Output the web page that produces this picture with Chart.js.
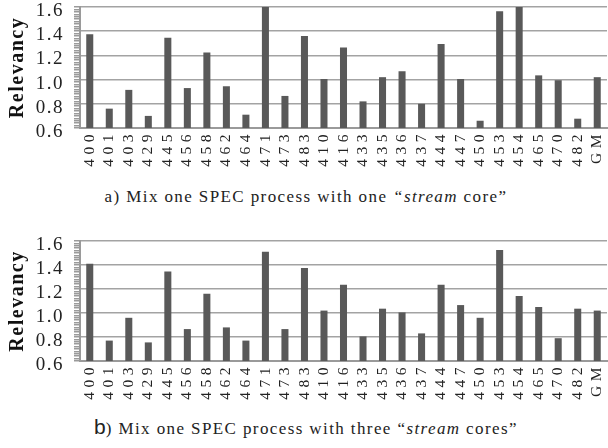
<!DOCTYPE html>
<html>
<head>
<meta charset="utf-8">
<script src="https://cdn.jsdelivr.net/npm/chart.js@4.4.0/dist/chart.umd.min.js"></script>
<style>
  body { margin: 0; background: #fff; width: 608px; height: 448px; position: relative; overflow: hidden; font-family: "Liberation Serif", serif; }
  .box { position: absolute; left: 0; width: 608px; height: 178px; }
  #boxA { top: 0; }
  #boxB { top: 233px; }
  .caption { position: absolute; left: 0; width: 612px; text-align: center; font-size: 17px; line-height: 20px; letter-spacing: 1.4px; color: #222; white-space: nowrap; }
  .caption .big { font-family: "Liberation Sans", sans-serif; font-size: 21px; line-height: 0; letter-spacing: 0; }
</style>
</head>
<body>
<div class="box" id="boxA"><canvas id="chartA" width="608" height="178"></canvas></div>
<div class="caption" style="top:187px">a) Mix one SPEC process with one <i>“stream</i> core”</div>
<div class="box" id="boxB"><canvas id="chartB" width="608" height="178"></canvas></div>
<div class="caption" style="top:419px"><span class="big">b</span>) Mix one SPEC process with three “<i>stream</i> cores”</div>

<script>
// Benchmarks on the x axis
const benchmarks = ['400', '401', '403', '429', '445', '456', '458', '462', '464', '471', '473', '483',
  '410', '416', '433', '435', '436', '437', '444', '447', '450', '453', '454', '465', '470', '482', 'GM'];

// a) one SPEC process with one stream core
const relevancyOneStream = [1.375, 0.76, 0.915, 0.70, 1.345, 0.93, 1.225, 0.945, 0.71, 1.61, 0.865, 1.36,
  1.005, 1.265, 0.82, 1.02, 1.07, 0.80, 1.295, 1.005, 0.66, 1.565, 1.61, 1.035, 0.995, 0.677, 1.02];

// b) one SPEC process with three stream cores
const relevancyThreeStream = [1.41, 0.77, 0.96, 0.755, 1.345, 0.866, 1.16, 0.88, 0.77, 1.51, 0.866, 1.375,
  1.02, 1.236, 0.805, 1.036, 1.005, 0.83, 1.236, 1.066, 0.96, 1.525, 1.142, 1.05, 0.79, 1.036, 1.02];

// Y axis range and ticks
const yMin = 0.6;
const yMax = 1.6;
const yLabelStep = 0.2;
const yMinorStep = 0.02;

const isMajor = (v) => Math.abs(v / yLabelStep - Math.round(v / yLabelStep)) < 1e-6;

// The original text is drawn a bit wide, so space the letters out
const letterSpacingPlugin = {
  id: 'letterSpacing',
  beforeDraw(chart) { chart.ctx.letterSpacing = '1.5px'; },
  afterDatasetsDraw(chart) { chart.ctx.letterSpacing = '4.5px'; },
  afterDraw(chart) { chart.ctx.letterSpacing = '0px'; }
};

function makeChart(canvasId, values, topPad) {
  return new Chart(document.getElementById(canvasId), {
    type: 'bar',
    data: {
      labels: benchmarks,
      datasets: [{
        data: values,
        backgroundColor: '#595959',
        borderWidth: 0,
        barPercentage: 0.36,
        categoryPercentage: 1
      }]
    },
    options: {
      responsive: false,
      animation: false,
      layout: { padding: { top: topPad, right: 1, left: 0, bottom: 0 } },
      plugins: {
        legend: { display: false },
        tooltip: { enabled: false }
      },
      scales: {
        x: {
          grid: { display: false, drawTicks: false },
          border: { color: '#9a9a9a', width: 2 },
          ticks: {
            autoSkip: false,
            minRotation: 90,
            maxRotation: 90,
            padding: 2,
            color: '#222',
            font: { family: 'Liberation Serif', size: 15.5 },
            z: 1
          },
          afterFit: (s) => { s.height = 50; s.paddingLeft = 0; s.paddingRight = 0; }
        },
        y: {
          min: yMin,
          max: yMax,
          grid: {
            color: (c) => isMajor(c.tick.value) ? '#a3a3a3' : 'rgba(0,0,0,0)',
            lineWidth: 1.5,
            tickColor: '#9a9a9a',
            tickLength: 6
          },
          border: { color: '#9a9a9a', width: 2 },
          ticks: {
            stepSize: yMinorStep,
            autoSkip: false,
            callback: (v) => isMajor(v) ? v.toFixed(1) : '',
            padding: 10,
            labelOffset: 4,
            color: '#222',
            font: { family: 'Liberation Serif', size: 19 }
          },
          title: {
            display: true,
            text: 'Relevancy',
            color: '#111',
            font: { family: 'Liberation Serif', size: 20, weight: 'bold' },
            padding: { top: 6, bottom: 0 }
          },
          afterFit: (s) => { s.width = 80; s.paddingTop = 0; s.paddingBottom = 0; }
        }
      }
    },
    plugins: [letterSpacingPlugin]
  });
}

makeChart('chartA', relevancyOneStream, 7);
makeChart('chartB', relevancyThreeStream, 8);
</script>
</body>
</html>
